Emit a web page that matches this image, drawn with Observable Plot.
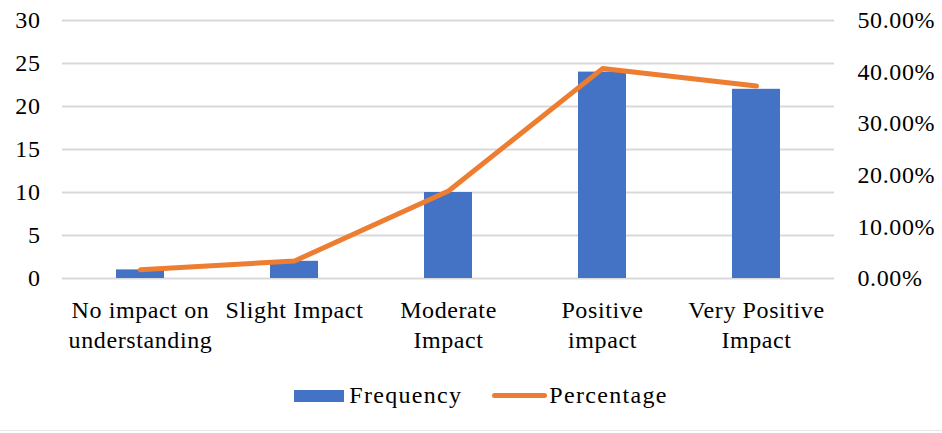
<!DOCTYPE html>
<html>
<head>
<meta charset="utf-8">
<script src="https://cdn.jsdelivr.net/npm/d3@7"></script>
<script src="https://cdn.jsdelivr.net/npm/@observablehq/plot@0.6"></script>
<style>
  html, body { margin: 0; padding: 0; background: #fff; }
  body { width: 942px; height: 433px; overflow: hidden; font-family: "Liberation Serif", "Times New Roman", Tinos, "Nimbus Roman", "DejaVu Serif", serif; }
  #chart svg { display: block; }
  .legend { position: absolute; top: 382px; left: 0; width: 922px; padding-left: 20px; display: flex; justify-content: center; align-items: center; font-size: 24px; letter-spacing: 1.3px; color: #000; }
  .legend .item { display: flex; align-items: center; }
  .legend .sw-bar { width: 50px; height: 12px; background: #4472C4; margin-right: 5px; }
  .legend .sw-line { width: 55px; height: 5px; background: #ED7D31; border-radius: 3px; margin-right: 2px; }
  .legend .gap { width: 30px; }
  .bottomline { position: absolute; top: 430px; left: 0; width: 942px; height: 1px; background: #e6e6e6; }
</style>
</head>
<body>
<div id="chart"></div>
<div class="legend">
  <div class="item"><div class="sw-bar"></div><span>Frequency</span></div>
  <div class="gap"></div>
  <div class="item"><div class="sw-line"></div><span>Percentage</span></div>
</div>
<div class="bottomline"></div>
<script>
const categories = ["No impact on\nunderstanding", "Slight Impact", "Moderate\nImpact", "Positive\nimpact", "Very Positive\nImpact"];
const frequency = [1, 2, 10, 24, 22];
const percentage = [1.69, 3.39, 16.95, 40.68, 37.29];
const leftTicks = [0, 5, 10, 15, 20, 25, 30];
const rightTicks = [0, 10, 20, 30, 40, 50];
const freqMax = 30;
const pctMax = 50;

const rows = categories.map((c, i) => ({cat: c, freq: frequency[i], pct: percentage[i], pctScaled: percentage[i] * freqMax / pctMax}));

const chart = Plot.plot({
  width: 942,
  height: 372,
  marginTop: 20,
  marginBottom: 94,
  marginLeft: 62,
  marginRight: 108,
  style: {fontFamily: "'Liberation Serif', 'Times New Roman', Tinos, 'Nimbus Roman', 'DejaVu Serif', serif", fontSize: "24px", letterSpacing: "0.6px", color: "#000", background: "#fff"},
  x: {domain: categories, paddingInner: 0.69, paddingOuter: 0.345, label: null},
  y: {domain: [0, freqMax], label: null},
  marks: [
    Plot.gridY(leftTicks, {stroke: "#d9d9d9", strokeOpacity: 1, strokeWidth: 2}),
    Plot.barY(rows, {x: "cat", y: "freq", fill: "#4472C4"}),
    Plot.line(rows, {x: "cat", y: "pctScaled", stroke: "#ED7D31", strokeWidth: 5, strokeLinecap: "round", strokeLinejoin: "round"}),
    Plot.axisY({anchor: "left", ticks: leftTicks, tickSize: 0, tickPadding: 22, label: null, fontSize: 24}),
    Plot.axisY({anchor: "right", ticks: rightTicks.map(p => p * freqMax / pctMax), tickSize: 0, tickPadding: 23, label: null, fontSize: 24,
      tickFormat: d => (d * pctMax / freqMax).toFixed(2) + "%"}),
    Plot.axisX({anchor: "bottom", tickSize: 0, tickPadding: 18, label: null, fontSize: 24, lineHeight: 1.25})
  ]
});
document.getElementById("chart").appendChild(chart);
</script>
</body>
</html>
